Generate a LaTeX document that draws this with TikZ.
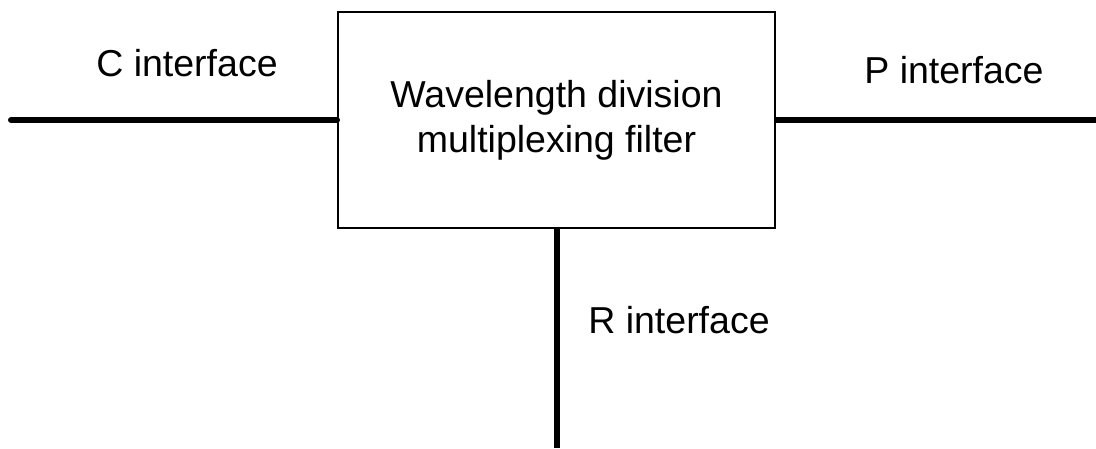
\documentclass[tikz,border=0pt]{standalone}
\usepackage{fontspec}
\setmainfont{Liberation Sans}
\usetikzlibrary{positioning}

\begin{document}
\begin{tikzpicture}[x=1pt,y=1pt,font=\fontsize{37.5}{45}\selectfont,
  filterbox/.style={draw,line width=2pt,minimum width=437pt,minimum height=216pt,
    inner sep=0pt,align=center},
  port/.style={line width=6pt},
  lbl/.style={anchor=base,inner sep=0pt}]
  \useasboundingbox (0,0) rectangle (1096,448);
  \node[filterbox] (wdm) at (556.5,328) {Wavelength division\\multiplexing filter};
  % free ends of the three interfaces
  \coordinate (cEnd) at (11,328);
  \coordinate (pEnd) at (1096,328);
  \coordinate (rEnd) at (557,0);
  \draw[port,line cap=round] (cEnd) -- (wdm.west);
  \draw[port] (wdm.east) -- (pEnd);
  \draw[port] (wdm.south -| rEnd) -- (rEnd);
  \node[lbl] (cLbl) at (187,371) {C interface};
  \node[lbl] (pLbl) at (954,364) {P interface};
  \node[lbl] (rLbl) at (679,115) {R interface};
\end{tikzpicture}
\end{document}
